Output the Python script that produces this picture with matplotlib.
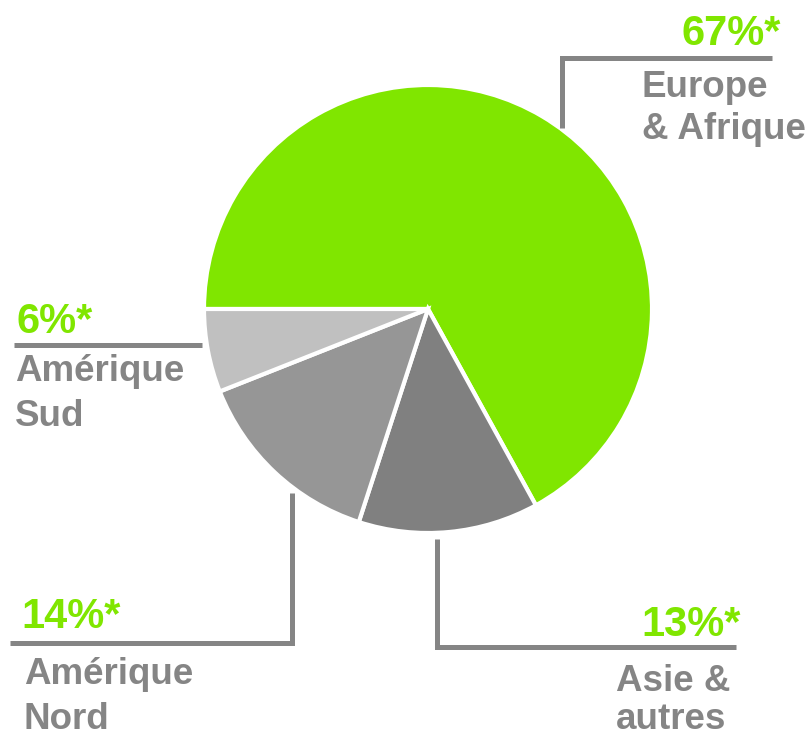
import matplotlib.pyplot as plt

# data
regions = ["Europe\n& Afrique", "Asie &\nautres", "Amérique\nNord", "Amérique\nSud"]
shares = [67, 13, 14, 6]
colors = ["#80e600", "#808080", "#969696", "#c0c0c0"]

GREEN = "#80e600"
GREY = "#858585"
W, H = 812, 739

plt.rcParams["font.family"] = ["Liberation Sans", "DejaVu Sans"]

fig = plt.figure(figsize=(W / 100, H / 100), dpi=100)
ax = fig.add_axes([0, 0, 1, 1])


def Y(y):
    # pixel row (top-down) -> data y
    return H - y


ax.pie(shares, colors=colors, startangle=180, counterclock=False,
       center=(428, Y(309)), radius=224, frame=True,
       wedgeprops=dict(edgecolor="white", linewidth=3))
ax.set_xlim(0, W)
ax.set_ylim(0, H)
ax.set_aspect("equal")
ax.axis("off")

line_kw = dict(color="#858585", lw=3.6, solid_joinstyle="miter", solid_capstyle="butt")

# leader lines (pixel layout)
ax.plot([562, 562, 772], [Y(128), Y(58), Y(58)], **line_kw)
ax.plot([14, 202], [Y(345), Y(345)], **line_kw)
ax.plot([292, 292, 10], [Y(493), Y(643), Y(643)], **line_kw)
ax.plot([437, 437, 736], [Y(539), Y(647), Y(647)], **line_kw)

pct_kw = dict(color=GREEN, fontsize=30, fontweight="bold")
name_kw = dict(color=GREY, fontsize=26.5, fontweight="bold", ha="left", va="baseline")

# (pct x, pct baseline, pct align, name x, name baselines)
layout = [
    (781, 45, "right", 642, (97, 139)),
    (741, 636, "right", 616, (691, 729)),
    (21, 628, "left", 24, (684, 729)),
    (17, 333, "left", 15, (381, 426)),
]

for name, share, (px, py, pha, nx, nys) in zip(regions, shares, layout):
    ax.text(px, Y(py), f"{share}%*", ha=pha, va="baseline", **pct_kw)
    for line, ny in zip(name.split("\n"), nys):
        ax.text(nx, Y(ny), line, **name_kw)

fig.savefig("out.png", dpi=100)
